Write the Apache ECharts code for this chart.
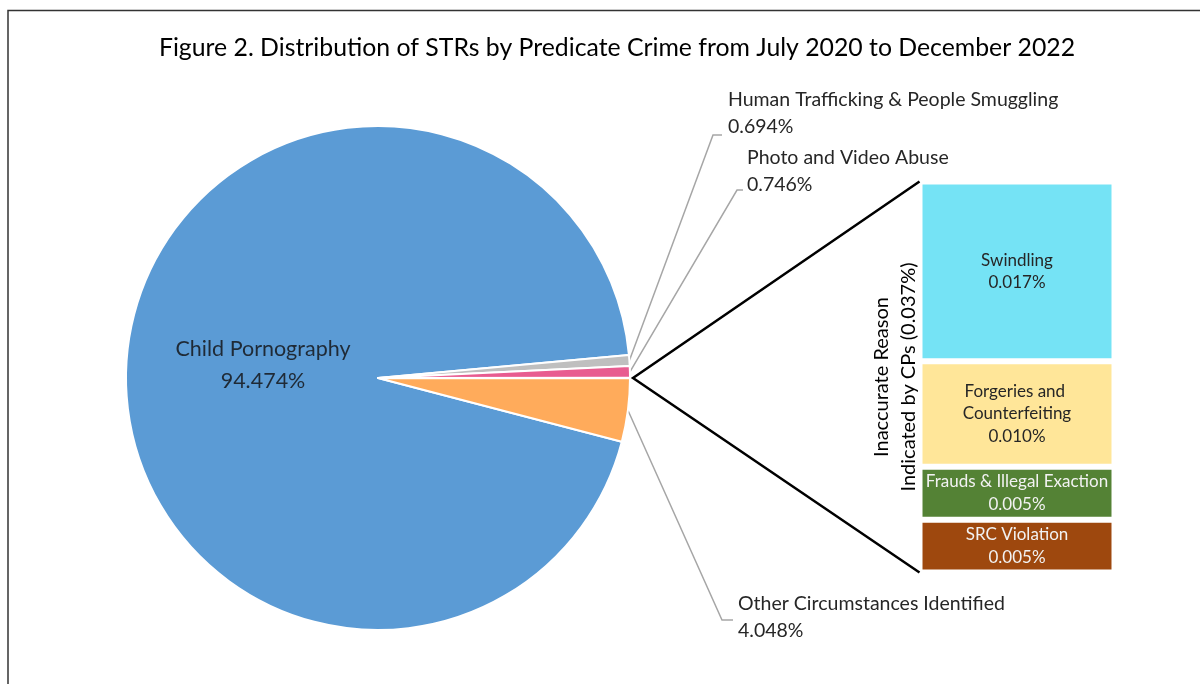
<!DOCTYPE html>
<html><head><meta charset="utf-8">
<script src="https://cdn.jsdelivr.net/npm/echarts@6/dist/echarts.min.js"></script>
<style>html,body{margin:0;padding:0;background:#fff}#c{width:1200px;height:684px}</style>
</head><body><div id="c"></div>
<script>
const titleText = 'Figure 2. Distribution of STRs by Predicate Crime from July 2020 to December 2022';
const pieNames = ['Child Pornography', 'Human Trafficking & People Smuggling', 'Photo and Video Abuse', 'Inaccurate Reason Indicated by CPs', 'Other Circumstances Identified'];
const pieValues = [94.474, 0.694, 0.746, 0.037, 4.048];
const barNames = ['SRC Violation', 'Frauds & Illegal Exactions', 'Forgeries and Counterfeiting', 'Swindling'];
const barValues = [0.005, 0.005, 0.010, 0.017];
const barCategory = ['Inaccurate Reason'];
const barAxisName = 'Inaccurate Reason\nIndicated by CPs (0.037%)';

const pieColors = ['#5B9BD5', '#BFBFBF', '#E85C90', '#7F7F7F', '#FFAB5B'];
const barColors = ['#9E480E', '#548235', '#FFE699', '#75E3F5'];
const barLabelColors = ['#F2F2F2', '#F2F2F2', '#262626', '#262626'];

const FONT = 'Lato, "Open Sans", sans-serif';
const center = [378, 378], R = 252;
const otherIdx = 3;
const total = pieValues.reduce((a, b) => a + b, 0);
let after = 0; for (let i = otherIdx + 1; i < pieValues.length; i++) after += pieValues[i];
const startAngle = 360 - (after + pieValues[otherIdx] / 2) / total * 360;
const barTotal = barValues.reduce((a, b) => a + b, 0);

const labelPos = {
  0: { x: 263, y: 365, align: 'center' },
  1: { x: 728, y: 113.5, bend: [713, 135], end: [722, 135] },
  2: { x: 747, y: 171, bend: [737, 190], end: [743, 190] },
  4: { x: 738, y: 617.5, bend: [722, 620], end: [733, 620] }
};
const barGrid = { left: 919.5, top: 181.5, width: 195, height: 391 };

const chart = echarts.init(document.getElementById('c'), null, { renderer: 'canvas' });

const pieData = pieNames.map((n, i) => {
  const d = { name: n, value: pieValues[i], itemStyle: { color: pieColors[i] } };
  if (i === 0) { d.label = { position: 'inner', fontSize: 21.5, lineHeight: 32, color: '#1F2A36' }; d.labelLine = { show: false }; }
  if (i === otherIdx) { d.label = { show: false }; d.labelLine = { show: false }; }
  return d;
});

const barSeries = barNames.map((n, i) => ({
  type: 'bar', name: n, stack: 'inacc', xAxisIndex: 0, yAxisIndex: 0,
  barWidth: '100%',
  data: [barValues[i]],
  itemStyle: { color: barColors[i], borderColor: '#fff', borderWidth: 3 },
  label: {
    show: true, position: 'inside', color: barLabelColors[i], fontFamily: FONT, fontSize: 17, lineHeight: 22.5,
    width: 184, overflow: i === 1 ? 'truncate' : 'break', ellipsis: '',
    formatter: (p) => p.seriesName + '\n' + p.value.toFixed(3) + '%'
  },
  emphasis: { disabled: true }
}));

const option = {
  animation: false,
  backgroundColor: '#fff',
  textStyle: { fontFamily: FONT },
  title: {
    text: titleText, left: 612, top: 31, textAlign: 'center',
    textStyle: { fontFamily: FONT, fontSize: 24.8, fontWeight: 'normal', color: '#000' }
  },
  grid: [{ left: barGrid.left, top: barGrid.top, width: barGrid.width, height: barGrid.height }],
  xAxis: [{ type: 'category', data: barCategory, gridIndex: 0, show: false, boundaryGap: true }],
  yAxis: [{
    type: 'value', gridIndex: 0, min: 0, max: barTotal,
    axisLine: { show: false }, axisTick: { show: false }, axisLabel: { show: false }, splitLine: { show: false },
    name: barAxisName, nameLocation: 'middle', nameRotate: 90, nameGap: -3,
    nameTextStyle: { fontFamily: FONT, fontSize: 20, lineHeight: 27, color: '#000' }
  }],
  series: [{
    type: 'pie', center: center, radius: R, startAngle: startAngle, clockwise: true,
    avoidLabelOverlap: false,
    data: pieData,
    itemStyle: { borderColor: '#fff', borderWidth: 2 },
    label: {
      show: true, position: 'outside', fontFamily: FONT, fontSize: 19.5, lineHeight: 27, color: '#262626',
      formatter: (p) => p.name + '\n' + p.value.toFixed(3) + '%'
    },
    labelLine: { show: true, lineStyle: { color: '#A6A6A6', width: 1.5 } },
    labelLayout: function (p) {
      const s = labelPos[p.dataIndex];
      if (!s) return {};
      if (!s.bend) return { x: s.x, y: s.y, align: s.align, verticalAlign: 'middle' };
      const a = (p.labelLinePoints && p.labelLinePoints[0]) || [center[0] + R, center[1]];
      return { x: s.x, y: s.y, align: 'left', verticalAlign: 'middle', labelLinePoints: [a, s.bend, s.end] };
    },
    emphasis: { disabled: true }
  }].concat(barSeries)
};
chart.setOption(option);

const yTop = chart.convertToPixel({ yAxisIndex: 0 }, barTotal);
const yBot = chart.convertToPixel({ yAxisIndex: 0 }, 0);
const xL = barGrid.left;
const anchor = [center[0] + R + 3, center[1]];
chart.setOption({
  graphic: [
    { type: 'polyline', id: 'frame', shape: { points: [[8, 684], [8, 10.5], [1200, 10.5]] }, style: { stroke: '#333', lineWidth: 1.5, fill: null }, silent: true },
    { type: 'polyline', id: 'conn', shape: { points: [[xL, yTop], anchor, [xL, yBot]] }, style: { stroke: '#000', lineWidth: 2.5, fill: null }, silent: true, z: 10 }
  ]
});
</script>
</body></html>
